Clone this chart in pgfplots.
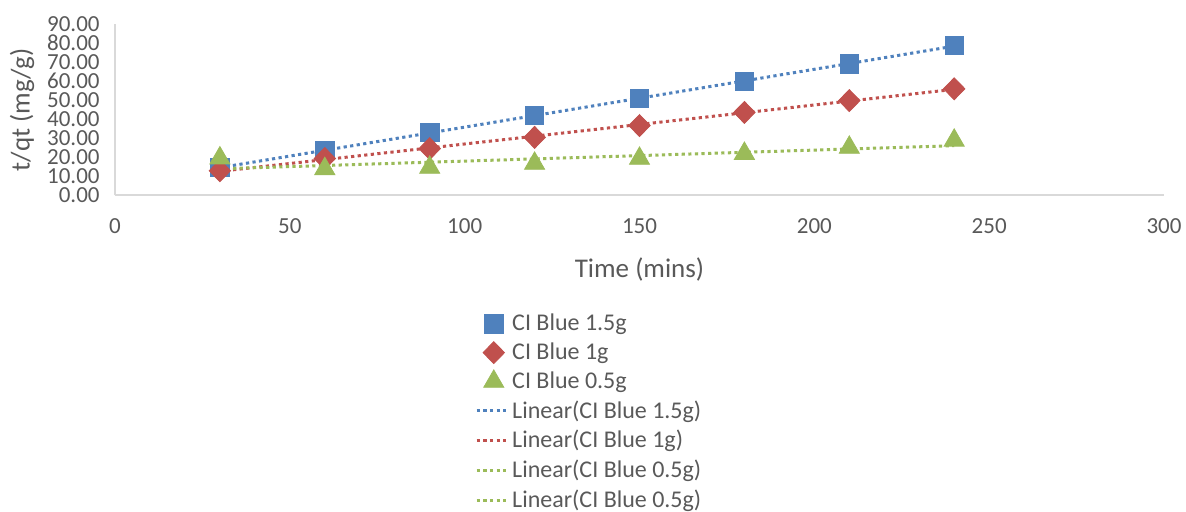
\documentclass[border=0pt]{standalone}
\usepackage{fontspec}
\setmainfont{Carlito}
\usepackage{pgfplots}
\usepackage{pgfplotstable}
\pgfplotsset{compat=1.18}
\definecolor{xlblue}{RGB}{79,129,189}
\definecolor{xlred}{RGB}{192,80,77}
\definecolor{xlgreen}{RGB}{155,187,89}
\definecolor{xltext}{RGB}{89,89,89}
\definecolor{xlaxis}{RGB}{217,217,217}

% time (mins), t/qt for the three doses
\pgfplotstableread{
x    b15   b1    b05
30   14.7  13.0  19.6
60   23.6  19.4  14.0
90   33.0  24.6  14.7
120  42.0  30.5  16.8
150  51.0  36.7  19.4
180  60.0  43.6  22.0
210  69.0  49.8  25.2
240  78.7  56.0  28.9
}\datatable

\begin{document}
\begin{tikzpicture}
\begin{axis}[
  at={(0,0)}, anchor=south west,
  scale only axis,
  width=524.5pt, height=85.75pt,
  xmin=0, xmax=300, ymin=0, ymax=90,
  xtick={0,50,...,300},
  ytick={0,10,...,90},
  axis x line*=bottom, axis y line*=left,
  axis line style={xlaxis, line width=1pt, -},
  major tick length=0pt,
  tick label style={text=xltext, font=\fontsize{11.5}{12}\selectfont},
  /pgf/number format/assume math mode=true,
  yticklabel style={inner sep=0pt, /pgf/number format/.cd, fixed, fixed zerofill, precision=2},
  xticklabel style={/pgf/number format/.cd, fixed, precision=0},
  yticklabel shift=7.5pt,
  xticklabel shift=8pt,
  xlabel={Time (mins)},
  ylabel={t/qt (mg/g)},
  label style={text=xltext, font=\fontsize{13.5}{15}\selectfont},
  xlabel style={at={(axis description cs:0.5,-0.434)}, anchor=center},
  ylabel style={at={(axis description cs:-0.0887,0.5)}, anchor=center, rotate=0},
  legend style={at={(axis description cs:0.343,-0.665)}, anchor=north west,
    draw=none, fill=none, text=xltext, font=\fontsize{12}{12.5}\selectfont,
    row sep=0.6pt, inner sep=0pt},
  legend cell align=left,
  trend/.style={line width=1.5pt, dash pattern=on 1.6pt off 1.7pt,
    legend image code/.code={\draw[##1] (0pt,0pt) -- (15pt,0pt);}},
]
\addplot[only marks, mark=square*, mark size=4.6pt, mark options={fill=xlblue, draw=xlblue}]
  table[x=x, y=b15] \datatable;
\addlegendentry{CI Blue 1.5g}
\addplot[only marks, mark=diamond*, mark size=5.5pt, mark options={fill=xlred, draw=xlred, xscale=1.3}]
  table[x=x, y=b1] \datatable;
\addlegendentry{CI Blue 1g}
\addplot[only marks, mark=triangle*, mark size=5.8pt, mark options={fill=xlgreen, draw=xlgreen}]
  table[x=x, y=b05] \datatable;
\addlegendentry{CI Blue 0.5g}
\addplot[trend, xlblue, no markers]
  table[x=x, y={create col/linear regression={y=b15}}] \datatable;
\addlegendentry{Linear(CI Blue 1.5g)}
\addplot[trend, xlred, no markers]
  table[x=x, y={create col/linear regression={y=b1}}] \datatable;
\addlegendentry{Linear(CI Blue 1g)}
\addplot[trend, xlgreen, no markers]
  table[x=x, y={create col/linear regression={y=b05}}] \datatable;
\addlegendentry{Linear(CI Blue 0.5g)}
\addlegendimage{trend, xlgreen}
\addlegendentry{Linear(CI Blue 0.5g)}
\end{axis}
\pgfresetboundingbox
\path[use as bounding box] (-57.5pt,-158.25pt) rectangle (535.5pt,97.75pt);
\end{tikzpicture}
\end{document}
